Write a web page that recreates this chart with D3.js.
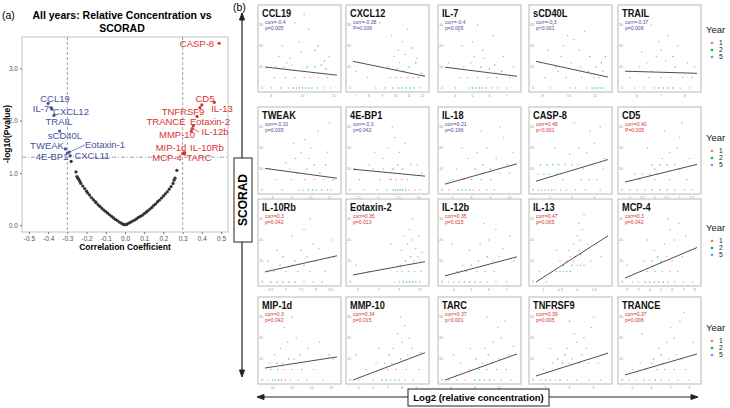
<!DOCTYPE html>
<html><head><meta charset="utf-8">
<script src="https://cdn.jsdelivr.net/npm/d3@7/dist/d3.min.js"></script>
<style>body{margin:0;background:#fff}svg{display:block;font-family:"Liberation Sans",Arial,sans-serif}</style>
</head><body><svg id="c" width="730" height="408"></svg>
<script>
// ---------- Panel (a) data ----------
const volcanoTicksX = [-0.5,-0.4,-0.3,-0.2,-0.1,0,0.1,0.2,0.3,0.4,0.5];
const volcanoTicksY = [0,1,2,3];
const grayR = [-0.28,-0.255,-0.25,-0.245,-0.24,-0.235,-0.23,-0.22,-0.21,-0.2,-0.195,-0.185,-0.175,-0.165,-0.155,-0.15,-0.14,-0.13,-0.12,-0.11,-0.1,-0.09,-0.08,-0.07,-0.06,-0.05,-0.04,-0.03,-0.02,-0.01,-0.005,
  0.005,0.01,0.02,0.03,0.04,0.05,0.06,0.07,0.08,0.09,0.1,0.11,0.12,0.13,0.14,0.15,0.16,0.17,0.18,0.19,0.2,0.21,0.22,0.23,0.24,0.25,0.255,0.26,0.27];
const grayY = [1.22,1.02,0.93,0.9,0.87,0.84,0.8,0.75,0.7,0.65,0.62,0.58,0.53,0.49,0.45,0.43,0.39,0.36,0.32,0.29,0.26,0.23,0.2,0.17,0.14,0.11,0.09,0.06,0.04,0.02,0.01,
  0.01,0.02,0.04,0.06,0.08,0.1,0.12,0.15,0.17,0.19,0.22,0.25,0.28,0.31,0.34,0.38,0.41,0.45,0.48,0.52,0.56,0.6,0.64,0.69,0.74,0.8,0.86,0.9,1.05];
const sigNames = ["CCL19","IL-7","CXCL12","TRAIL","sCD40L","TWEAK","4E-BP1","Eotaxin-1","CXCL11",
  "CASP-8","CD5","IL-13","TNFRSF9","TRANCE","Eotaxin-2","IL-12b","MMP-10","MIP-1d","IL-10Rb","MCP-4","TARC"];
const sigR = [-0.4,-0.385,-0.38,-0.37,-0.34,-0.31,-0.3,-0.29,-0.285,
  0.49,0.40,0.465,0.39,0.375,0.355,0.35,0.345,0.305,0.31,0.3,0.31];
const sigY = [2.33,2.25,2.22,2.1,1.8,1.46,1.38,1.40,1.33,
  3.48,2.30,2.35,2.25,2.08,1.9,1.85,1.8,1.38,1.39,1.37,1.36];
// label layout (pixel anchors: centre x, baseline y, draw leader?)
const sigLabelPos = [[55,102,0],[41,112,1],[71,115,0],[59,125,0],[65,139,0],[47,149,0],[52,160,0],[105,148,1],[92,159,0],
  [197,47,0],[205,102,0],[222,112,0],[183,115,0],[166,125,0],[210,125,0],[215,135,1],[177,138,0],[171,151,0],[207,151,0],[167,161,0],[199,161,0]];

// ---------- Panel (b) data ----------
const panelNames = ["CCL19","CXCL12","IL-7","sCD40L","TRAIL","TWEAK","4E-BP1","IL-18","CASP-8","CD5",
  "IL-10Rb","Eotaxin-2","IL-12b","IL-13","MCP-4","MIP-1d","MMP-10","TARC","TNFRSF9","TRANCE"];
const corrLabels = ["corr=-0.4","corr=-0.38","corr=-0.4","corr=-0.3","corr=-0.37","corr=-0.31","corr=-0.3","corr=0.21","corr=0.48","corr=0.40",
  "corr=0.3","corr=0.35","corr=0.35","corr=0.47","corr=0.3","corr=0.3","corr=0.34","corr=0.37","corr=0.39","corr=0.37"];
const pLabels = ["p=0.005","P=0.006","p=0.005","p<0.001","p=0.008","p=0.035","p=0.042","p=0.196","p<0.001","P=0.005",
  "p=0.042","p=0.013","p=0.015","p=0.005","p=0.042","p=0.042","p=0.015","p<0.001","p=0.005","p=0.008"];
const xDomains = [[7.6,12.2],[6.8,12.2],[3.4,7.6],[7.5,13],[5.5,8.5],[7.6,11.4],[1.8,10.8],[6.6,10.4],[0.8,7.2],[4.8,7.7],
  [6.3,8.7],[4.5,11.5],[3.5,7.6],[-1.2,0.9],[1.8,8.2],[9.2,16.6],[4.6,9.6],[5.5,11.5],[6.6,9.6],[4.6,8.4]];
const xTickVals = [[8,10,12],[7,8,9,10,11,12],[4,5,6,7],[8,10,12],[6,7,8],[8,9,10,11],[2.5,5.0,7.5,10.0],[7,8,9,10],[2,4,6],[5.0,5.5,6.0,6.5,7.0,7.5],
  [6.5,7.0,7.5,8.0,8.5],[5,7,9,11],[4,5,6,7],[-1.0,-0.5,0.0,0.5],[2,3,4,5,6,7,8],[10,12,14,16],[5,6,7,8,9],[6,8,10],[7,8,9],[5,6,7,8]];
const fitLines = [[10,6.1],[12.7,5.6],[9.9,5.6],[12.7,5.2],[8,7],[10.3,5.6],[9.9,6.6],[2.8,12.5],[4.2,14.5],[3.8,12.2],
  [4.8,12.5],[3.4,9.7],[2.9,12],[0,22],[1.9,16.4],[5.7,11],[0,13],[0,12.4],[1.9,12.8],[2.4,12.4]];
const yTickVals = [0,10,20,30];
const years = [1,2,5];
const scatterPoints = [
 [[8.0,0,1],[8.6,0,5],[9.1,0,1],[9.4,0,2],[9.6,0,2],[9.8,0,2],[10.0,0,2],[10.2,0,2],[10.4,0,2],[10.6,0,2],[10.9,0,5],[11.3,0,1],[11.8,0,1],[8.2,5,1],[8.9,5,1],[9.5,5,1],[10.1,5,5],[10.5,5,1],[11.0,5,1],[11.6,5,5],[8.3,10,1],[8.8,10,1],[9.3,11,1],[10.3,10,2],[10.8,10,2],[11.2,11,2],[11.5,9,2],[9.0,12,1],[8.5,15,1],[9.2,14,1],[8.7,20,1],[9.8,22,1],[10.4,28,1],[9.5,31,1],[10.8,18,2],[11.0,20,2],[11.7,15,1],[8.1,31,1],[10.1,35,1],[9.9,17,1],[11.4,13,2]],
 [[7.0,8,1],[7.9,5,1],[8.5,0,1],[9.2,0,5],[9.8,0,2],[10.2,0,2],[10.5,0,2],[10.8,0,2],[11.1,0,2],[11.4,0,2],[11.8,0,1],[9.6,5,1],[10.0,5,1],[10.4,5,1],[10.9,5,1],[11.3,5,1],[11.7,5,5],[9.4,10,1],[10.1,9,1],[10.6,8,2],[11.0,10,2],[11.5,12,2],[10.3,12,1],[9.9,15,1],[10.7,16,1],[11.2,19,2],[10.5,22,1],[9.7,25,1],[10.9,28,1],[8.8,31,1],[11.6,14,1],[10.2,18,1],[11.9,7,5]],
 [[3.6,12,1],[4.0,0,1],[4.3,5,1],[4.5,10,1],[4.8,0,5],[5.0,0,2],[5.2,0,2],[5.4,0,2],[5.6,0,2],[5.8,0,2],[6.1,0,1],[6.5,0,5],[7.0,0,1],[4.7,5,1],[5.3,5,1],[5.9,5,5],[6.4,5,1],[7.2,5,1],[4.9,12,1],[5.1,15,1],[5.5,10,2],[5.7,14,1],[6.0,9,2],[6.3,11,2],[6.7,8,2],[4.4,20,1],[5.0,22,1],[5.6,18,1],[6.2,25,1],[5.3,30,1],[6.8,15,1],[7.4,10,1],[4.2,27,1]],
 [[7.8,12,1],[8.2,5,1],[8.6,0,1],[9.0,10,1],[9.4,15,1],[9.8,5,1],[10.1,0,5],[10.5,0,1],[11.0,5,1],[11.4,0,5],[11.8,0,2],[12.0,0,2],[12.2,0,2],[12.4,0,2],[12.6,0,2],[11.9,5,5],[12.3,5,1],[12.6,8,5],[12.1,10,2],[12.5,12,2],[11.6,15,2],[10.8,18,1],[10.2,12,1],[9.6,20,1],[9.9,25,1],[10.4,23,1],[11.2,27,1],[8.8,30,1],[12.8,15,1],[9.2,8,1],[10.9,10,1],[11.5,8,1],[8.4,18,1]],
 [[5.7,5,1],[5.9,0,1],[6.1,10,1],[6.3,0,1],[6.5,5,1],[6.7,0,5],[6.9,0,2],[7.1,0,2],[7.3,0,2],[7.5,0,2],[7.8,0,1],[8.2,0,1],[6.6,8,5],[7.0,5,1],[7.4,5,1],[7.9,5,5],[8.3,5,1],[6.4,12,1],[6.8,15,1],[7.2,13,1],[7.6,10,2],[7.0,18,1],[6.9,22,1],[7.3,25,1],[6.6,30,1],[7.7,20,1],[8.1,12,1],[6.2,17,1],[7.5,15,2],[8.4,10,1]],
 [[7.8,10,1],[8.2,5,1],[8.5,0,1],[8.9,10,1],[9.2,15,1],[9.4,0,5],[9.6,0,1],[9.9,0,2],[10.1,0,2],[10.3,0,2],[10.6,0,2],[10.9,0,5],[11.1,0,1],[9.0,5,1],[9.7,5,5],[10.2,5,1],[10.7,5,1],[11.2,5,1],[9.3,8,1],[9.8,10,1],[10.2,12,2],[10.5,8,2],[10.8,12,2],[9.5,18,1],[10.0,20,1],[9.7,24,1],[10.4,28,1],[10.9,18,1],[8.7,13,1],[9.1,22,1],[11.0,32,1],[9.9,15,1]],
 [[2.0,10,1],[2.6,5,1],[3.2,0,1],[3.8,12,1],[4.3,10,1],[4.8,0,1],[5.2,5,1],[5.6,10,1],[6.0,0,5],[6.4,5,1],[6.8,0,2],[7.1,0,2],[7.4,0,2],[7.7,0,2],[8.0,0,2],[8.4,0,2],[8.8,0,1],[9.5,0,1],[10.2,0,1],[6.6,5,1],[7.2,5,5],[7.9,5,1],[8.6,5,1],[6.8,10,2],[7.4,12,2],[8.0,10,2],[9.0,12,1],[5.5,15,1],[6.2,20,1],[7.0,25,1],[7.6,18,1],[8.3,22,1],[6.7,30,1],[9.8,12,1],[4.5,18,1],[10.4,8,1]],
 [[6.8,0,1],[7.0,5,5],[7.3,0,2],[7.5,0,2],[7.7,0,2],[7.9,0,2],[8.1,0,5],[8.4,0,1],[8.8,0,1],[9.2,0,1],[7.2,10,1],[7.6,5,1],[8.0,5,1],[8.5,5,1],[9.0,5,5],[9.5,8,1],[8.2,10,2],[8.6,12,2],[9.0,10,2],[7.8,15,1],[8.3,18,1],[8.8,20,1],[9.3,15,1],[9.7,25,1],[8.5,28,1],[9.9,12,1],[10.2,18,1],[7.5,20,1],[9.5,30,1],[10.0,8,1]],
 [[1.0,0,5],[1.3,0,5],[1.6,0,5],[1.9,0,5],[2.2,0,2],[2.5,0,1],[3.0,0,1],[3.5,0,1],[4.3,0,1],[5.2,0,1],[6.5,0,1],[1.0,7.5,5],[1.5,7.5,5],[2.0,7.5,5],[2.6,7.5,5],[1.2,12,2],[1.8,12,2],[2.3,12,2],[2.8,12,2],[3.4,12,1],[4.0,12,1],[4.5,12,1],[3.2,5,1],[4.8,5,1],[5.5,5,1],[6.2,5,1],[5.0,10,1],[5.8,12,1],[6.8,10,1],[3.8,17,1],[4.6,20,1],[5.3,18,1],[6.0,22,1],[5.6,28,1],[6.5,30,1],[4.2,32,1],[2.5,20,1],[6.9,15,1]],
 [[5.0,0,1],[5.3,0,5],[5.6,0,5],[5.9,0,2],[6.2,0,2],[6.5,0,2],[6.8,0,1],[7.2,0,1],[7.5,0,1],[5.2,7.5,5],[5.5,7.5,5],[5.8,7.5,5],[6.1,7.5,5],[5.4,5,1],[6.0,5,1],[6.6,5,1],[7.3,5,1],[5.9,12,2],[6.2,12,2],[6.5,12,2],[6.8,12,1],[6.3,15,1],[6.6,18,1],[6.9,20,1],[7.0,25,1],[6.4,28,1],[7.1,32,1],[5.7,20,1],[7.4,15,1],[6.0,10,1],[7.0,10,1]],
 [[6.5,0,2],[6.7,0,2],[6.9,0,2],[7.1,0,2],[7.3,0,2],[7.6,0,1],[7.9,0,1],[8.2,0,1],[6.6,5,1],[7.0,5,1],[7.4,5,5],[7.8,5,1],[8.3,5,1],[6.8,8,5],[7.2,8,5],[7.6,8,5],[6.9,12,2],[7.3,10,2],[7.7,12,1],[8.0,10,1],[6.4,10,1],[7.5,15,1],[7.9,18,1],[8.1,16,1],[7.2,22,1],[7.6,25,1],[7.8,30,1],[8.5,20,1],[6.7,15,1],[8.6,12,1]],
 [[4.8,8,1],[6.0,5,1],[8.5,0,1],[9.0,0,5],[9.4,0,2],[9.7,0,2],[10.0,0,2],[10.3,0,2],[10.6,0,2],[11.0,0,1],[8.8,5,1],[9.3,5,5],[9.9,5,1],[10.5,5,1],[11.1,5,1],[9.1,8,5],[9.6,10,2],[10.1,12,2],[10.4,10,1],[10.8,12,1],[9.2,15,1],[9.8,18,1],[10.2,20,1],[10.6,16,1],[9.5,22,1],[10.0,25,1],[10.3,30,1],[11.2,14,1],[8.2,18,1],[10.9,22,1]],
 [[3.7,0,1],[4.0,0,1],[4.3,0,2],[4.6,0,2],[4.9,0,2],[5.2,0,2],[5.5,0,5],[5.9,0,1],[6.4,0,1],[7.0,0,1],[4.2,5,1],[4.7,5,5],[5.3,5,1],[5.8,5,1],[6.3,5,1],[4.5,8,5],[5.0,8,5],[5.4,10,2],[5.9,12,2],[6.2,10,1],[6.6,12,1],[4.9,15,1],[5.5,18,1],[6.0,20,1],[6.4,25,1],[5.7,28,1],[6.8,16,1],[7.2,22,1],[3.9,18,1],[7.4,10,1]],
 [[-1.1,5,1],[-0.9,0,1],[-0.6,5,5],[-0.5,5,5],[-0.4,5,5],[-0.3,5,5],[-0.2,5,2],[-0.5,10,1],[-0.4,8,2],[-0.3,10,1],[-0.2,12,1],[-0.1,10,1],[-0.15,8,2],[0.0,8,1],[0.1,8,1],[0.2,8,1],[-0.05,12,1],[0.05,15,1],[-0.1,18,1],[0.1,20,1],[0.0,22,1],[0.15,25,1],[0.05,28,1],[0.2,32,1],[0.3,18,1],[-0.6,15,1],[0.4,10,1],[0.7,12,1],[-0.25,15,1],[0.1,13,2]],
 [[2.0,8,1],[2.5,0,1],[3.0,0,1],[3.6,0,2],[4.0,0,2],[4.4,0,2],[4.8,0,2],[5.2,0,2],[5.6,0,1],[6.2,0,1],[7.0,0,1],[7.8,0,1],[3.2,5,1],[3.8,5,5],[4.5,5,1],[5.1,5,5],[5.8,5,1],[6.5,5,1],[3.5,10,1],[4.2,10,2],[4.7,12,2],[5.0,10,2],[5.5,12,1],[6.0,10,1],[4.4,15,1],[5.3,18,1],[6.2,20,1],[5.8,25,1],[6.6,28,1],[7.2,22,1],[7.6,15,1],[3.8,20,1],[6.9,12,1],[5.6,30,1]],
 [[9.5,0,1],[10.0,0,2],[10.3,0,2],[10.6,0,2],[10.9,0,2],[11.3,0,1],[11.8,0,1],[12.6,0,1],[13.5,0,1],[15.2,0,1],[9.8,5,5],[10.5,5,5],[11.2,5,1],[12.0,5,1],[13.0,5,1],[14.2,5,1],[9.6,8,1],[10.4,8,2],[11.0,8,1],[11.6,10,2],[12.2,10,1],[12.8,12,1],[10.8,15,1],[11.5,18,1],[12.4,20,1],[13.6,15,1],[14.8,18,1],[11.2,25,1],[12.0,30,1],[15.8,12,1],[10.2,12,1],[16.2,10,1]],
 [[5.0,0,1],[6.0,0,1],[6.6,0,2],[6.9,0,2],[7.2,0,2],[7.5,0,2],[7.8,0,5],[8.2,0,1],[8.8,0,1],[5.5,5,1],[6.5,5,5],[7.0,5,1],[7.6,5,1],[8.3,5,1],[9.2,5,1],[6.2,8,1],[6.8,8,5],[7.3,8,1],[7.9,10,2],[8.4,12,1],[7.1,12,2],[7.4,15,1],[8.0,18,1],[8.5,20,1],[7.7,22,1],[8.2,26,1],[7.9,30,1],[8.7,15,1],[4.8,12,1],[9.3,13,1],[6.4,15,1]],
 [[5.8,0,1],[6.5,0,1],[7.2,0,1],[8.0,0,2],[8.4,0,2],[8.8,0,2],[9.2,0,2],[9.6,0,1],[10.2,0,1],[11.0,0,1],[7.5,5,1],[8.3,5,5],[9.0,5,1],[9.8,5,1],[10.6,5,1],[6.8,8,1],[8.6,8,5],[9.4,8,1],[8.1,10,2],[9.1,12,2],[10.0,10,1],[10.8,12,1],[8.8,15,1],[9.5,18,1],[10.2,20,1],[9.9,25,1],[10.5,28,1],[11.2,16,1],[7.6,15,1],[9.0,30,1],[6.2,12,1]],
 [[6.8,0,1],[7.0,0,5],[7.2,0,5],[7.4,0,5],[7.6,0,2],[7.9,0,1],[8.3,0,1],[8.8,0,1],[9.3,0,1],[6.9,5,1],[7.3,8,1],[7.7,8,2],[8.0,8,1],[8.4,8,1],[8.8,8,1],[9.2,8,1],[7.5,10,2],[7.8,12,2],[8.1,10,1],[8.5,12,1],[7.9,15,1],[8.3,18,1],[8.6,20,1],[8.9,25,1],[8.2,22,1],[9.0,30,1],[8.7,15,1],[9.4,12,1],[7.2,15,1],[8.0,28,2]],
 [[4.8,0,1],[5.2,0,1],[5.6,0,5],[5.9,0,5],[6.2,0,2],[6.5,0,1],[6.9,0,1],[7.4,0,1],[8.0,0,1],[5.0,5,1],[5.7,5,5],[6.3,5,5],[6.7,5,1],[7.2,5,1],[7.8,5,1],[5.4,8,1],[6.0,8,5],[6.6,8,1],[6.1,10,2],[6.5,12,2],[6.9,10,1],[7.3,12,1],[7.6,10,1],[6.4,15,1],[6.8,18,1],[7.2,20,1],[7.0,25,1],[7.5,28,1],[7.7,32,1],[8.2,18,1],[5.5,22,1]]
];

// ---------- layout ----------
const svg = d3.select("#c");
const BLUE = "#4a4f9e", RED = "#d8322f";
const yearColor = d3.scaleOrdinal().domain(years).range(["#F8766D","#00BA38","#619CFF"]);

// Panel (a)
const vx = d3.scaleLinear().domain([-0.536,0.536]).range([22,228]);
const vy = d3.scaleLinear().domain([-0.13,3.6]).range([232,37]);
svg.append("text").attr("x",2).attr("y",19).attr("font-size",10.5).text("(a)");
svg.append("text").attr("x",122).attr("y",19).attr("text-anchor","middle").attr("font-size",10.5).attr("font-weight","bold").text("All years: Relative Concentration vs");
svg.append("text").attr("x",122).attr("y",32).attr("text-anchor","middle").attr("font-size",10.5).attr("font-weight","bold").text("SCORAD");
svg.append("rect").attr("x",22).attr("y",37).attr("width",206).attr("height",195).attr("fill","#fff").attr("stroke","#bfbfbf").attr("stroke-width",1);
const ref = "#8d97ad";
[-0.3,0.3].forEach(v=>svg.append("line").attr("x1",vx(v)).attr("x2",vx(v)).attr("y1",37).attr("y2",232).attr("stroke",ref).attr("stroke-width",0.9).attr("stroke-dasharray","3,2"));
svg.append("line").attr("x1",22).attr("x2",228).attr("y1",vy(1.301)).attr("y2",vy(1.301)).attr("stroke",ref).attr("stroke-width",0.9).attr("stroke-dasharray","4,2,1,2");
const fmt = v => d3.format(".1f")(v).replace("−","-");
const ax = svg.append("g").attr("transform","translate(0,232)").call(d3.axisBottom(vx).tickValues(volcanoTicksX).tickFormat(fmt).tickSize(2).tickPadding(2));
ax.select(".domain").remove();
ax.selectAll("text").attr("font-size",6.5).attr("fill","#555");
ax.selectAll("line").attr("stroke","#777");
const ay = svg.append("g").attr("transform","translate(22,0)").call(d3.axisLeft(vy).tickValues(volcanoTicksY).tickSize(2).tickPadding(2));
ay.select(".domain").remove();
ay.selectAll("text").attr("font-size",6.5).attr("fill","#555");
ay.selectAll("line").attr("stroke","#777");
svg.append("text").attr("x",125).attr("y",250).attr("text-anchor","middle").attr("font-size",8.5).attr("font-weight","bold").text("Correlation Coefficient");
svg.append("text").attr("transform","translate(10,134) rotate(-90)").attr("text-anchor","middle").attr("font-size",8.5).attr("font-weight","bold").text("-log10(Pvalue)");
svg.append("g").selectAll("circle").data(grayR.map((r,i)=>[r,grayY[i]])).join("circle")
  .attr("cx",d=>vx(d[0])).attr("cy",d=>vy(d[1])).attr("r",1.6).attr("fill","#333");
const sig = sigNames.map((n,i)=>({n,r:sigR[i],y:sigY[i],lp:sigLabelPos[i]}));
const sg = svg.append("g");
sig.forEach(d=>{
  const c = d.r<0?BLUE:RED;
  if(d.lp[2]) sg.append("line").attr("x1",vx(d.r)).attr("y1",vy(d.y)).attr("x2",d.r<0?(d.n==="IL-7"?d.lp[0]+9:d.lp[0]-20):d.lp[0]-16).attr("y2",d.lp[1]-3).attr("stroke",c).attr("stroke-width",0.7);
  sg.append("circle").attr("cx",vx(d.r)).attr("cy",vy(d.y)).attr("r",1.6).attr("fill",c);
  sg.append("text").attr("x",d.lp[0]).attr("y",d.lp[1]).attr("text-anchor","middle").attr("font-size",9.5).attr("fill",c).text(d.n);
});

// Panel (b)
svg.append("text").attr("x",233).attr("y",11).attr("font-size",10.5).text("(b)");
const colLefts = [258,346,438,529,618], rowTops = [5,107,199,297], PW = 83, PH = 87;
const legendBase = [33,141,231,331];
panelNames.forEach((name,i)=>{
  const fx = colLefts[i%5], fy = rowTops[Math.floor(i/5)];
  const g = svg.append("g");
  g.append("rect").attr("x",fx).attr("y",fy).attr("width",PW).attr("height",PH).attr("fill","#fff").attr("stroke","#c8c8c8").attr("stroke-width",1.3);
  const x = d3.scaleLinear().domain(xDomains[i]).range([fx+7,fx+PW-4]);
  const y = d3.scaleLinear().domain([0,30]).range([fy+83,fy+20]);
  yTickVals.forEach(t=>g.append("text").attr("x",fx+5).attr("y",y(t)+1.2).attr("text-anchor","end").attr("font-size",3.6).attr("fill","#999").text(t));
  xTickVals[i].forEach(t=>g.append("text").attr("x",x(t)).attr("y",fy+PH+4.5).attr("text-anchor","middle").attr("font-size",3.6).attr("fill","#999").text(t));
  g.selectAll("circle.pt").data(scatterPoints[i]).join("circle").attr("class","pt")
    .attr("cx",d=>x(d[0])).attr("cy",d=>y(d[1])).attr("r",0.75).attr("fill",d=>yearColor(d[2])).attr("opacity",0.75);
  g.append("line").attr("x1",x(xDomains[i][0])).attr("y1",y(fitLines[i][0])).attr("x2",x(xDomains[i][1])).attr("y2",y(fitLines[i][1])).attr("stroke","#3a3a3a").attr("stroke-width",0.9);
  const pos = !corrLabels[i].includes("-") && i!==7;
  const tc = pos?RED:BLUE;
  g.append("text").attr("transform",`translate(${fx+4},${fy+11.5}) scale(0.84,1)`).attr("font-size",11).attr("font-weight","bold").attr("fill","#111").text(name);
  g.append("text").attr("transform",`translate(${fx+7},${fy+18.5}) scale(0.85,1)`).attr("font-size",6).attr("fill",tc).text(corrLabels[i]);
  g.append("text").attr("transform",`translate(${fx+7},${fy+25}) scale(0.85,1)`).attr("font-size",6).attr("fill",tc).text(pLabels[i]);
});
legendBase.forEach(b=>{
  svg.append("text").attr("x",706).attr("y",b).attr("font-size",9.5).attr("fill","#222").text("Year");
  years.forEach((yr,j)=>{
    const cy = b+10+j*7;
    svg.append("circle").attr("cx",712).attr("cy",cy).attr("r",1.3).attr("fill",yearColor(yr));
    svg.append("text").attr("x",719).attr("y",cy+2.4).attr("font-size",6.8).attr("fill","#222").text(yr);
  });
});
// arrows
const arr = svg.append("g").attr("stroke","#222").attr("fill","#222");
arr.append("line").attr("x1",242).attr("x2",242).attr("y1",18).attr("y2",372).attr("stroke-width",1.2);
arr.append("path").attr("d","M242,13 L239.5,20 L244.5,20 Z");
arr.append("path").attr("d","M242,377 L239.5,370 L244.5,370 Z");
arr.append("line").attr("x1",262).attr("x2",693).attr("y1",397).attr("y2",397).attr("stroke-width",1.2);
arr.append("path").attr("d","M257,397 L264,394.5 L264,399.5 Z");
arr.append("path").attr("d","M698,397 L691,394.5 L691,399.5 Z");
svg.append("rect").attr("x",234).attr("y",158).attr("width",18).attr("height",84).attr("fill","#fff").attr("stroke","#222").attr("stroke-width",1);
svg.append("text").attr("transform","translate(247,200) rotate(-90)").attr("text-anchor","middle").attr("font-size",12).attr("font-weight","bold").text("SCORAD");
svg.append("rect").attr("x",408).attr("y",389).attr("width",141).attr("height",17).attr("fill","#fff").attr("stroke","#222").attr("stroke-width",1);
svg.append("text").attr("x",478.5).attr("y",401).attr("text-anchor","middle").attr("font-size",9.5).attr("font-weight","bold").text("Log2 (relative concentration)");
</script></body></html>
